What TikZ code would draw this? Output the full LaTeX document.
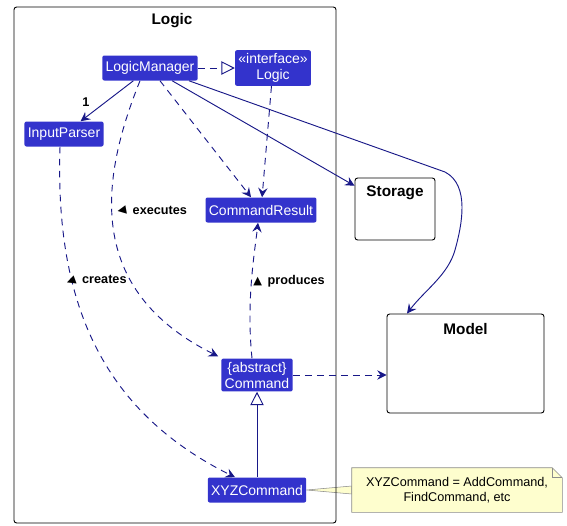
\documentclass[tikz,border=0pt]{standalone}
\usepackage{fontspec}
\setmainfont{Liberation Sans}
\newfontfamily\symfont{DejaVu Sans}
\usetikzlibrary{arrows.meta,calc,backgrounds}

\definecolor{classblue}{RGB}{51,51,204}
\definecolor{linkblue}{RGB}{24,24,136}
\definecolor{notefill}{RGB}{254,254,206}
\definecolor{noteline}{RGB}{140,140,140}

\newcommand{\dirtri}[1]{\rotatebox[origin=c]{#1}{\symfont\fontsize{8.5}{8.5}\selectfont ▲}}

\begin{document}
\begin{tikzpicture}[x=0.75pt, y=-0.75pt,
  cls/.style={rectangle, rounded corners=1.5pt, fill=classblue, text=white,
    font=\fontsize{10.5}{12}\selectfont, inner sep=2.5pt, minimum height=18.75pt, align=center},
  pkg/.style={draw, rounded corners=2pt, line width=0.7pt},
  pkgtitle/.style={font=\bfseries\fontsize{11.5}{12}\selectfont},
  link/.style={draw=linkblue, line width=0.7pt, -{Stealth[length=7pt,width=7pt,inset=2.5pt]}},
  dep/.style={link, dash pattern=on 5pt off 4pt},
  realize/.style={draw=linkblue, line width=0.7pt, -{Triangle[open,length=10pt,width=10pt,fill=white]}},
  lbl/.style={font=\bfseries\fontsize{9.5}{10}\selectfont},
  notebox/.style={font=\fontsize{9.5}{11.5}\selectfont, align=center, minimum width=157.5pt, minimum height=33pt}]

  \useasboundingbox (0,0) rectangle (567,525);

  % packages
  \draw[pkg] (14,7) rectangle (336,523);
  \node[pkgtitle] (logictitle) at (172,21) {Logic};
  \node[pkg, minimum width=60pt, minimum height=46.5pt] (storage) at (395,209) {};
  \node[pkgtitle] (storagetitle) at (395,193) {Storage};
  \node[pkg, minimum width=117.75pt, minimum height=74.25pt] (model) at (465.5,363.5) {};
  \node[pkgtitle] (modeltitle) at (465.5,329) {Model};

  % classes
  \node[cls] (lm) at (150,68) {LogicManager};
  \node[cls] (logic) at (273,68) {«interface»\\Logic};
  \node[cls] (parser) at (64,134) {InputParser};
  \node[cls] (result) at (261,210) {CommandResult};
  \node[cls] (cmd) at (257,375) {\{abstract\}\\Command};
  \node[cls] (xyz) at (257,490) {XYZCommand};

  % note
  \node[notebox] (note) at (457,490) {XYZCommand = AddCommand,\\FindCommand, etc};
  \begin{scope}[on background layer]
    \draw[noteline, fill=notefill] (xyz.east) -- ([yshift=3pt]note.west) -- ([yshift=-3pt]note.west) -- cycle;
    \draw[noteline, fill=notefill] (note.south west) -- (note.north west)
      -- ([xshift=-7.5pt]note.north east) -- ([yshift=-7.5pt]note.north east)
      -- (note.south east) -- cycle;
    \draw[noteline] ([xshift=-7.5pt]note.north east) -- ([xshift=-7.5pt,yshift=-7.5pt]note.north east)
      -- ([yshift=-7.5pt]note.north east);
  \end{scope}

  % connectors
  \draw[realize, dash pattern=on 5pt off 4pt] (lm) -- (logic);
  \draw[link] (lm) -- node[lbl, pos=0.9, above=4pt] (one) {1} (parser);
  \draw[dep] (lm) -- (result);
  \draw[dep] (logic) -- (result);
  \draw[link] (lm) -- (storage);
  \draw[link] ($(lm.south east)+(-9,0)$) -- (445,172)
    .. controls (470,185) and (462,225) .. (455,250)
    .. controls (448,275) and (425,290) .. ($(model.north)+(-58.5,0)$);
  \draw[dep] ([xshift=-7.5pt]lm.south) .. controls (100,180) and (85,290) .. ($(cmd.north west)+(-3,-2)$);
  \draw[dep] ([xshift=-3pt]parser.south) .. controls (55,300) and (100,410) .. ($(xyz.north)+(-22,0)$);
  \draw[dep] ([xshift=-3.75pt]cmd.north) .. controls (246,300) and (255,250) .. ([xshift=-2.25pt]result.south);
  \draw[dep] (cmd) -- (cmd -| model.west);
  \draw[realize] (xyz) -- (cmd);

  % link labels
  \node[lbl] (executes) at (152,211) {\dirtri{100}\, executes};
  \node[lbl] (creates) at (96,281) {\dirtri{110}\, creates};
  \node[lbl] (produces) at (289,281) {\dirtri{0}\, produces};
\end{tikzpicture}
\end{document}
